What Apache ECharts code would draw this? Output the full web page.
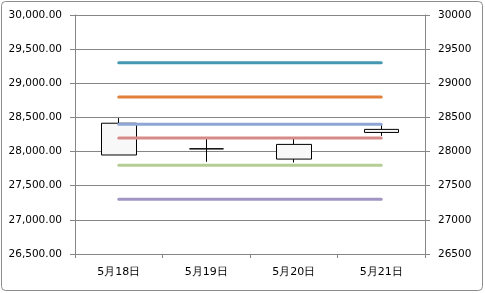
<!DOCTYPE html>
<html>
<head>
<meta charset="utf-8">
<script src="https://cdn.jsdelivr.net/npm/echarts@6/dist/echarts.min.js"></script>
<style>
html,body{margin:0;padding:0;background:#fff;}
#c{width:485px;height:293px;}
</style>
</head>
<body>
<div id="c"></div>
<script>
const categories = ['5月18日', '5月19日', '5月20日', '5月21日'];
// [open, close, low, high]
const candles = [
  [27950, 28415, 27950, 28490],
  [28040, 28040, 27850, 28185],
  [27890, 28105, 27840, 28195],
  [28280, 28325, 28230, 28405]
];
const levelNames = ['L1', 'L2', 'L3', 'L4', 'L5', 'L6'];
const levelValues = [29300, 28800, 28400, 28200, 27800, 27300];
const levelColors = ['#4698B1', '#E07F3B', '#8DA6D6', '#D68B89', '#B6CD93', '#A295C4'];

const fontFamily = 'DejaVu Sans';
const axisGray = '#868686';

const lineSeries = levelValues.map((v, i) => ({
  name: levelNames[i],
  type: 'line',
  data: categories.map(() => v),
  symbol: 'none',
  z: 5,
  lineStyle: { color: levelColors[i], width: 3, cap: 'round' },
  animation: false
}));

const chart = echarts.init(document.getElementById('c'), null, { renderer: 'canvas' });
chart.setOption({
  animation: false,
  backgroundColor: '#fff',
  graphic: [{
    type: 'rect',
    shape: { x: 1.5, y: 1.5, width: 481, height: 289, r: 4 },
    style: { fill: 'none', stroke: '#8C8C8C', lineWidth: 1 },
    silent: true
  }],
  grid: { left: 75, right: 60, top: 15, bottom: 39 },
  xAxis: {
    type: 'category',
    data: categories,
    boundaryGap: true,
    axisLine: { lineStyle: { color: axisGray } },
    axisTick: { show: true, length: 4, lineStyle: { color: axisGray } },
    axisLabel: { color: '#000', fontFamily, fontSize: 11, margin: 13 }
  },
  yAxis: [{
    type: 'value',
    position: 'left',
    min: 26500, max: 30000, interval: 500,
    axisLine: { show: true, lineStyle: { color: axisGray } },
    axisTick: { show: true, length: 5, lineStyle: { color: axisGray } },
    splitLine: { show: true, lineStyle: { color: axisGray, width: 1 } },
    axisLabel: {
      color: '#000', fontFamily, fontSize: 10.5, margin: 13,
      formatter: v => v.toLocaleString('en-US', { minimumFractionDigits: 2, maximumFractionDigits: 2 })
    }
  }, {
    type: 'value',
    position: 'right',
    min: 26500, max: 30000, interval: 500,
    axisLine: { show: true, lineStyle: { color: axisGray } },
    axisTick: { show: true, length: 5, lineStyle: { color: axisGray } },
    splitLine: { show: false },
    axisLabel: { color: '#000', fontFamily, fontSize: 10.5, margin: 13, formatter: v => String(v) }
  }],
  series: [{
    type: 'candlestick',
    data: candles,
    barWidth: 35,
    z: 3,
    itemStyle: {
      color: '#F8F8F8', color0: '#F8F8F8',
      borderColor: '#000', borderColor0: '#000',
      borderColorDoji: '#000',
      borderWidth: 1
    }
  }].concat(lineSeries)
});
</script>
</body>
</html>
